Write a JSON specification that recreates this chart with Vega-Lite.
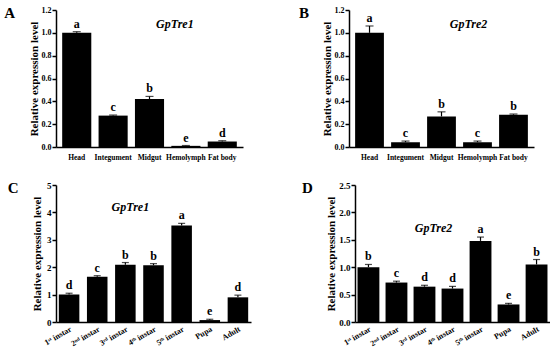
{
  "$schema": "https://vega.github.io/schema/vega-lite/v6.json",
  "background": "white",
  "padding": {"left": 4, "top": 6, "right": 3, "bottom": 1},
  "config": {
    "view": {"stroke": null},
    "axis": {
      "domainColor": "black", "domainWidth": 1.5, "tickColor": "black", "tickWidth": 1.5,
      "labelFont": "Liberation Serif", "labelFontWeight": "bold", "labelColor": "black",
      "titleFont": "Liberation Serif", "titleFontWeight": "bold", "titleColor": "black",
      "grid": false, "labelOverlap": false
    },
    "title": {"font": "Liberation Serif", "fontWeight": "bold", "fontSize": 15, "color": "black"}
  },
  "datasets": {
    "A": [
      {"tissue": "Head", "value": 1.0, "upper": 1.01, "sig": "a"},
      {"tissue": "Integument", "value": 0.275, "upper": 0.28, "sig": "c"},
      {"tissue": "Midgut", "value": 0.42, "upper": 0.443, "sig": "b"},
      {"tissue": "Hemolymph", "value": 0.01, "upper": 0.013, "sig": "e"},
      {"tissue": "Fat body", "value": 0.048, "upper": 0.055, "sig": "d"}
    ],
    "B": [
      {"tissue": "Head", "value": 1.0, "upper": 1.06, "sig": "a"},
      {"tissue": "Integument", "value": 0.042, "upper": 0.052, "sig": "c"},
      {"tissue": "Midgut", "value": 0.268, "upper": 0.308, "sig": "b"},
      {"tissue": "Hemolymph", "value": 0.042, "upper": 0.052, "sig": "c"},
      {"tissue": "Fat body", "value": 0.283, "upper": 0.289, "sig": "b"}
    ],
    "C": [
      {"stage": "1ˢᵗ instar", "value": 1.0, "upper": 1.05, "sig": "d"},
      {"stage": "2ⁿᵈ instar", "value": 1.65, "upper": 1.69, "sig": "c"},
      {"stage": "3ʳᵈ instar", "value": 2.09, "upper": 2.17, "sig": "b"},
      {"stage": "4ᵗʰ instar", "value": 2.07, "upper": 2.13, "sig": "b"},
      {"stage": "5ᵗʰ instar", "value": 3.52, "upper": 3.6, "sig": "a"},
      {"stage": "Pupa", "value": 0.07, "upper": 0.1, "sig": "e"},
      {"stage": "Adult", "value": 0.9, "upper": 0.98, "sig": "d"}
    ],
    "D": [
      {"stage": "1ˢᵗ instar", "value": 1.0, "upper": 1.05, "sig": "b"},
      {"stage": "2ⁿᵈ instar", "value": 0.72, "upper": 0.745, "sig": "c"},
      {"stage": "3ʳᵈ instar", "value": 0.645, "upper": 0.67, "sig": "d"},
      {"stage": "4ᵗʰ instar", "value": 0.61, "upper": 0.65, "sig": "d"},
      {"stage": "5ᵗʰ instar", "value": 1.48, "upper": 1.55, "sig": "a"},
      {"stage": "Pupa", "value": 0.32, "upper": 0.34, "sig": "e"},
      {"stage": "Adult", "value": 1.05, "upper": 1.14, "sig": "b"}
    ],
    "genesA": [{"gene": "GpTre1"}],
    "genesB": [{"gene": "GpTre2"}]
  },
  "resolve": {"scale": {"x": "independent", "y": "independent"}},
  "spacing": 20,
  "vconcat": [
    {
      "spacing": 55,
      "resolve": {"scale": {"x": "independent", "y": "independent"}},
      "hconcat": [
        {
          "width": 187, "height": 137,
          "title": {"text": "A", "orient": "left", "anchor": "end", "angle": 0, "offset": 2, "baseline": "top"},
          "data": {"name": "A"},
          "resolve": {"axis": {"y": "independent"}},
          "encoding": {
            "x": {"field": "tissue", "type": "nominal", "sort": null,
              "scale": {"domain": ["Head", "Integument", "Midgut", "Hemolymph", "Fat body"], "paddingInner": 0.2, "paddingOuter": 0.17},
              "axis": {"title": null, "ticks": false, "labelAngle": 0, "labelFontSize": 7.5, "labelPadding": 6, "labelOverlap": false}}
          },
          "layer": [
            {"mark": {"type": "bar", "color": "black"},
             "encoding": {"y": {"field": "value", "type": "quantitative",
               "scale": {"domain": [0, 1.2], "nice": false},
               "axis": {"title": "Relative expression level", "titleFontSize": 11, "titlePadding": 2, "values": [0, 0.2, 0.4, 0.6, 0.8, 1.0, 1.2], "format": ".1f", "labelFontSize": 8, "tickSize": 4, "labelPadding": 1, "labelOverlap": false}}}},
            {"mark": {"type": "rule", "color": "black", "strokeWidth": 1.2},
             "encoding": {"y": {"field": "value", "type": "quantitative", "axis": null}, "y2": {"field": "upper"}}},
            {"mark": {"type": "tick", "color": "black", "size": 8, "thickness": 1.2},
             "encoding": {"y": {"field": "upper", "type": "quantitative", "axis": null}}},
            {"mark": {"type": "text", "font": "Liberation Serif", "fontWeight": "bold", "fontSize": 12, "baseline": "alphabetic", "dy": -4, "color": "black"},
             "encoding": {"y": {"field": "upper", "type": "quantitative", "axis": null}, "text": {"field": "sig"}}},
            {"data": {"name": "genesA"},
             "mark": {"type": "text", "font": "Liberation Serif", "fontWeight": "bold", "fontStyle": "italic", "fontSize": 12, "baseline": "middle", "dx": -11, "color": "black"},
             "encoding": {"x": {"datum": "Hemolymph"}, "y": {"datum": 1.08, "axis": null}, "text": {"field": "gene"}}}
          ]
        },
        {
          "width": 185, "height": 137,
          "title": {"text": "B", "orient": "left", "anchor": "end", "angle": 0, "offset": 2, "baseline": "top"},
          "data": {"name": "B"},
          "resolve": {"axis": {"y": "independent"}},
          "encoding": {
            "x": {"field": "tissue", "type": "nominal", "sort": null,
              "scale": {"domain": ["Head", "Integument", "Midgut", "Hemolymph", "Fat body"], "paddingInner": 0.2, "paddingOuter": 0.17},
              "axis": {"title": null, "ticks": false, "labelAngle": 0, "labelFontSize": 7.5, "labelPadding": 6, "labelOverlap": false}}
          },
          "layer": [
            {"mark": {"type": "bar", "color": "black"},
             "encoding": {"y": {"field": "value", "type": "quantitative",
               "scale": {"domain": [0, 1.2], "nice": false},
               "axis": {"title": "Relative expression level", "titleFontSize": 11, "titlePadding": 2, "values": [0, 0.2, 0.4, 0.6, 0.8, 1.0, 1.2], "format": ".1f", "labelFontSize": 8, "tickSize": 4, "labelPadding": 1, "labelOverlap": false}}}},
            {"mark": {"type": "rule", "color": "black", "strokeWidth": 1.2},
             "encoding": {"y": {"field": "value", "type": "quantitative", "axis": null}, "y2": {"field": "upper"}}},
            {"mark": {"type": "tick", "color": "black", "size": 8, "thickness": 1.2},
             "encoding": {"y": {"field": "upper", "type": "quantitative", "axis": null}}},
            {"mark": {"type": "text", "font": "Liberation Serif", "fontWeight": "bold", "fontSize": 12, "baseline": "alphabetic", "dy": -4, "color": "black"},
             "encoding": {"y": {"field": "upper", "type": "quantitative", "axis": null}, "text": {"field": "sig"}}},
            {"data": {"name": "genesB"},
             "mark": {"type": "text", "font": "Liberation Serif", "fontWeight": "bold", "fontStyle": "italic", "fontSize": 12, "baseline": "middle", "dx": -9, "color": "black"},
             "encoding": {"x": {"datum": "Hemolymph"}, "y": {"datum": 1.08, "axis": null}, "text": {"field": "gene"}}}
          ]
        }
      ]
    },
    {
      "spacing": 51,
      "resolve": {"scale": {"x": "independent", "y": "independent"}},
      "hconcat": [
        {
          "width": 195, "height": 137,
          "title": {"text": "C", "orient": "left", "anchor": "end", "angle": 0, "offset": 2, "baseline": "top"},
          "data": {"name": "C"},
          "resolve": {"axis": {"y": "independent"}},
          "encoding": {
            "x": {"field": "stage", "type": "nominal", "sort": null,
              "scale": {"domain": ["1ˢᵗ instar", "2ⁿᵈ instar", "3ʳᵈ instar", "4ᵗʰ instar", "5ᵗʰ instar", "Pupa", "Adult"], "paddingInner": 0.27, "paddingOuter": 0.1},
              "axis": {"title": null, "ticks": false, "labelAngle": -30, "labelFontSize": 8, "labelPadding": 3, "labelOverlap": false}}
          },
          "layer": [
            {"mark": {"type": "bar", "color": "black"},
             "encoding": {"y": {"field": "value", "type": "quantitative",
               "scale": {"domain": [0, 5], "nice": false},
               "axis": {"title": "Relative expression level", "titleFontSize": 11, "titlePadding": 4, "values": [0, 1, 2, 3, 4, 5], "format": "d", "labelFontSize": 9, "tickSize": 4, "labelPadding": 1, "labelOverlap": false}}}},
            {"mark": {"type": "rule", "color": "black", "strokeWidth": 1.2},
             "encoding": {"y": {"field": "value", "type": "quantitative", "axis": null}, "y2": {"field": "upper"}}},
            {"mark": {"type": "tick", "color": "black", "size": 7, "thickness": 1.2},
             "encoding": {"y": {"field": "upper", "type": "quantitative", "axis": null}}},
            {"mark": {"type": "text", "font": "Liberation Serif", "fontWeight": "bold", "fontSize": 12, "baseline": "alphabetic", "dy": -4, "color": "black"},
             "encoding": {"y": {"field": "upper", "type": "quantitative", "axis": null}, "text": {"field": "sig"}}},
            {"data": {"name": "genesA"},
             "mark": {"type": "text", "font": "Liberation Serif", "fontWeight": "bold", "fontStyle": "italic", "fontSize": 12, "baseline": "middle", "dx": 5, "color": "black"},
             "encoding": {"x": {"datum": "3ʳᵈ instar"}, "y": {"datum": 4.2, "axis": null}, "text": {"field": "gene"}}}
          ]
        },
        {
          "width": 195, "height": 137,
          "title": {"text": "D", "orient": "left", "anchor": "end", "angle": 0, "offset": 2, "baseline": "top"},
          "data": {"name": "D"},
          "resolve": {"axis": {"y": "independent"}},
          "encoding": {
            "x": {"field": "stage", "type": "nominal", "sort": null,
              "scale": {"domain": ["1ˢᵗ instar", "2ⁿᵈ instar", "3ʳᵈ instar", "4ᵗʰ instar", "5ᵗʰ instar", "Pupa", "Adult"], "paddingInner": 0.22, "paddingOuter": 0.09},
              "axis": {"title": null, "ticks": false, "labelAngle": -30, "labelFontSize": 8, "labelPadding": 3, "labelOverlap": false}}
          },
          "layer": [
            {"mark": {"type": "bar", "color": "black"},
             "encoding": {"y": {"field": "value", "type": "quantitative",
               "scale": {"domain": [0, 2.5], "nice": false},
               "axis": {"title": "Relative expression level", "titleFontSize": 11, "titlePadding": 2, "values": [0, 0.5, 1.0, 1.5, 2.0, 2.5], "format": ".1f", "labelFontSize": 9, "tickSize": 4, "labelPadding": 1, "labelOverlap": false}}}},
            {"mark": {"type": "rule", "color": "black", "strokeWidth": 1.2},
             "encoding": {"y": {"field": "value", "type": "quantitative", "axis": null}, "y2": {"field": "upper"}}},
            {"mark": {"type": "tick", "color": "black", "size": 7, "thickness": 1.2},
             "encoding": {"y": {"field": "upper", "type": "quantitative", "axis": null}}},
            {"mark": {"type": "text", "font": "Liberation Serif", "fontWeight": "bold", "fontSize": 12, "baseline": "alphabetic", "dy": -4, "color": "black"},
             "encoding": {"y": {"field": "upper", "type": "quantitative", "axis": null}, "text": {"field": "sig"}}},
            {"data": {"name": "genesB"},
             "mark": {"type": "text", "font": "Liberation Serif", "fontWeight": "bold", "fontStyle": "italic", "fontSize": 12, "baseline": "middle", "dx": 9, "color": "black"},
             "encoding": {"x": {"datum": "3ʳᵈ instar"}, "y": {"datum": 1.72, "axis": null}, "text": {"field": "gene"}}}
          ]
        }
      ]
    }
  ]
}
